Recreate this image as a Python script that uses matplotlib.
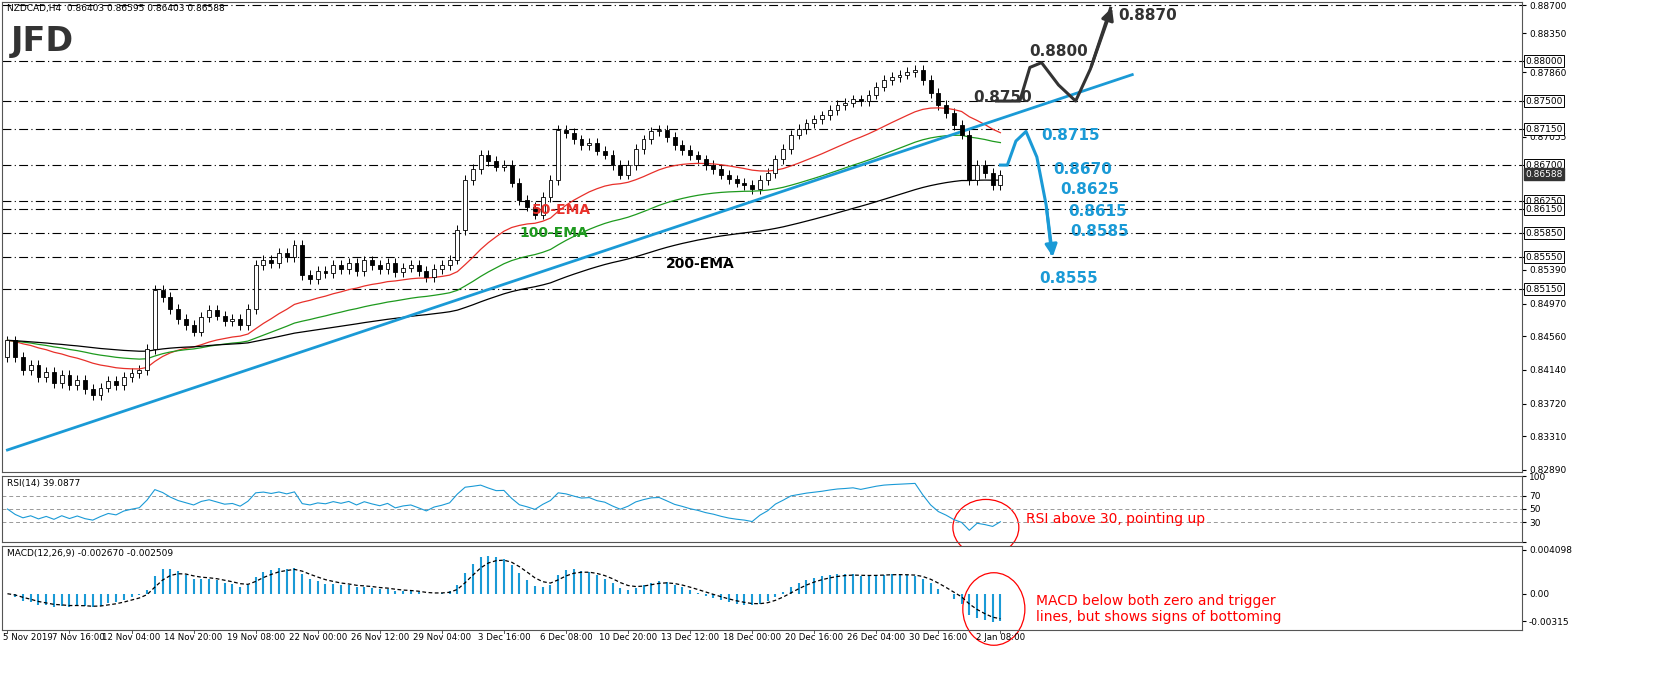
import numpy as np
import matplotlib
matplotlib.use("Agg")
import matplotlib.pyplot as plt
from matplotlib.patches import Ellipse, Rectangle

closes = [.8451,.8430,.8414,.8420,.8405,.8412,.8398,.8408,.8395,.8402,.8390,
          .8383,.8392,.8400,.8395,.8405,.8410,.8414,.8440,
          .8514,.8505,.8490,.8478,.8470,.8462,.8480,.8489,.8482,.8475,.8478,.8470,.8490,
          .8545,.8552,.8548,.8560,.8555,.8570,.8533,.8528,.8538,.8535,.8545,.8540,.8548,.8538,
          .8551,.8545,.8540,.8548,.8536,.8542,.8545,.8538,.8530,.8540,.8545,.8552,
          .8589,.8651,.8665,.8683,.8675,.8668,.8670,.8648,.8626,.8618,.8608,.8630,.8651,
          .8714,.8710,.8702,.8695,.8698,.8688,.8683,.8670,.8658,.8670,.8690,.8702,.8712,
          .8714,.8705,.8695,.8689,.8682,.8677,.8670,.8665,.8658,.8652,.8648,.8645,.8640,.8651,.8660,.8677,.8690,
          .8708,.8715,.8722,.8727,.8732,.8739,.8745,.8748,.8752,.8750,.8758,.8768,.8776,.8780,.8783,.8786,.8789,
          .8776,.8760,.8745,.8735,.8720,.8708,.8651,.8670,.8660,.8645,.8658]
open0 = 0.8430
levels = [0.8870, 0.8800, 0.8750, 0.8715, 0.8670, 0.8625, 0.8615, 0.8585, 0.8555, 0.8515]
price_ticks = [0.88700,0.88350,0.88000,0.87860,0.87500,0.87150,0.87055,0.86700,0.86250,0.86150,
               0.85850,0.85550,0.85390,0.85150,0.84970,0.84560,0.84140,0.83720,0.83310,0.82890]
boxed = [0.88000,0.87500,0.87150,0.86700,0.86250,0.86150,0.85850,0.85550,0.85150]
date_labels = ["5 Nov 2019","7 Nov 16:00","12 Nov 04:00","14 Nov 20:00","19 Nov 08:00","22 Nov 00:00",
               "26 Nov 12:00","29 Nov 04:00","3 Dec 16:00","6 Dec 08:00","10 Dec 20:00","13 Dec 12:00",
               "18 Dec 00:00","20 Dec 16:00","26 Dec 04:00","30 Dec 16:00","2 Jan 08:00"]
trend_x = [0, 145]
trend_y = [0.8314, 0.8783]
bull_x = [127.5, 130.5, 131.8, 133.3, 135.5, 137.7, 139.6, 142.2]
bull_y = [0.8750, 0.8750, 0.8792, 0.8798, 0.8770, 0.8750, 0.8790, 0.8866]
bear_x = [128.0, 128.9, 130.0, 131.3, 132.7, 133.9, 134.6]
bear_y = [0.8670, 0.8670, 0.8700, 0.8712, 0.8680, 0.8620, 0.8560]

c = np.array(closes)
o = np.concatenate([[open0], c[:-1]])
hi = np.maximum(o, c) + 0.0006
lo = np.minimum(o, c) - 0.0006
n = len(c); x = np.arange(n)

def ema(a, span, init=None):
    k = 2/(span+1); out = [a[0] if init is None else init]
    for v in a[1:]: out.append(out[-1] + k*(v-out[-1]))
    return np.array(out)

def rsi(a, p):
    d = np.diff(a, prepend=a[0]); g = np.clip(d,0,None); l = np.clip(-d,0,None)
    base = np.abs(d).mean()/2
    ag = ema(g, 2*p-1, base); al = ema(l, 2*p-1, base)
    return 100 - 100/(1 + ag/np.maximum(al,1e-9))

fig = plt.figure(figsize=(16.55, 6.86), dpi=100)
W, H = 1655, 686
L, R = 2/W, 1522/W
def ax_at(top, bot):
    return fig.add_axes([L, 1-bot/H, R-L, (bot-top)/H])
ax = ax_at(2, 472); ax2 = ax_at(476, 542); ax3 = ax_at(546, 630)
xl = (-0.7, (1522-5)/7.77)
for a in (ax, ax2, ax3):
    a.set_xlim(*xl); a.set_xticks([])
    a.yaxis.tick_right(); a.tick_params(axis='y', labelsize=6.5, length=3, pad=2)
    for s in a.spines.values(): s.set_color('#555'); s.set_linewidth(0.8)

ax.set_ylim(0.8289 - 2/8003, 0.8870 + 3/8003)
for lv in levels:
    ax.axhline(lv, color='black', lw=0.8, ls=(0, (8, 3, 1, 3)))
for i in range(n):
    up = c[i] >= o[i]
    ax.vlines(x[i], lo[i], hi[i], color='black', lw=0.7)
    ax.add_patch(Rectangle((x[i]-0.25, min(o[i], c[i])), 0.5, max(abs(c[i]-o[i]), 0.00003),
                           facecolor='white' if up else 'black', edgecolor='black', lw=0.6, zorder=3))
ax.plot(x, ema(c, 25), color='#e8302a', lw=0.9)
ax.plot(x, ema(c, 50), color='#1e9a1e', lw=0.9)
ax.plot(x, ema(c, 100), color='black', lw=0.9)
ax.plot(trend_x, trend_y, color='#1a9ad6', lw=2)
ax.plot(bull_x, bull_y, color='#333', lw=2.2)
ax.annotate('', xy=(bull_x[-1]+0.3, 0.8870), xytext=(bull_x[-2], bull_y[-2]),
            arrowprops=dict(arrowstyle='-|>', color='#333', lw=2.2, mutation_scale=18))
ax.plot(bear_x, bear_y, color='#1a9ad6', lw=2.2)
ax.annotate('', xy=(134.8, 0.8552), xytext=(bear_x[-2], bear_y[-2]),
            arrowprops=dict(arrowstyle='-|>', color='#1a9ad6', lw=2.2, mutation_scale=18))
ax.set_yticks(price_ticks)
ax.set_yticklabels(["" if t in boxed else f"{t:.5f}" for t in price_ticks])
for t in boxed:
    ax.text(1.002, t, f"{t:.5f}", transform=ax.get_yaxis_transform(), fontsize=6.5, va='center',
            bbox=dict(boxstyle='square,pad=0.15', fc='white', ec='black', lw=0.7))
ax.text(1.002, 0.86588, "0.86588", transform=ax.get_yaxis_transform(), fontsize=6.5, va='center', color='white',
        bbox=dict(boxstyle='square,pad=0.15', fc='#333', ec='#333'))
def px(p): return (p-5)/7.77
bk = dict(fontsize=11, fontweight='bold')
ax.text(px(1118), 0.8857, "0.8870", color='#333', va='center', **bk)
ax.text(px(1028), 0.8812, "0.8800", color='#333', va='center', **bk)
ax.text(px(972), 0.8754, "0.8750", color='#333', va='center', **bk)
bl = '#1a9ad6'
ax.text(px(1040), 0.8707, "0.8715", color=bl, va='center', **bk)
ax.text(px(1052), 0.8665, "0.8670", color=bl, va='center', **bk)
ax.text(px(1060), 0.8640, "0.8625", color=bl, va='center', **bk)
ax.text(px(1068), 0.8612, "0.8615", color=bl, va='center', **bk)
ax.text(px(1070), 0.8587, "0.8585", color=bl, va='center', **bk)
ax.text(px(1038), 0.8528, "0.8555", color=bl, va='center', **bk)
ax.text(px(530), 0.8609, "50-EMA", color='#e8302a', fontsize=10, fontweight='bold')
ax.text(px(518), 0.8580, "100-EMA", color='#1e9a1e', fontsize=10, fontweight='bold')
ax.text(px(665), 0.8541, "200-EMA", color='black', fontsize=10, fontweight='bold')
ax.text(0.003, 0.995, "NZDCAD,H4  0.86403 0.86595 0.86403 0.86588", transform=ax.transAxes, fontsize=6.5, va='top')
ax.text(0.006, 0.95, "JFD", transform=ax.transAxes, fontsize=24, fontweight='bold', color='#333', va='top')

r = rsi(c, 10)
ax2.set_ylim(0, 100)
for lv in (70, 50, 30): ax2.axhline(lv, color='#999', lw=0.7, ls=(0, (4, 3)))
ax2.plot(x, r, color='#1a9ad6', lw=0.8)
ax2.set_yticks([0, 30, 50, 70, 100]); ax2.set_yticklabels(["", "30", "50", "70", "100"])
ax2.text(0.003, 0.95, "RSI(14) 39.0877", transform=ax2.transAxes, fontsize=6.5, va='top')
ax2.add_patch(Ellipse((px(985), 22), 8.5, 85, fill=False, ec='red', lw=0.9, clip_on=False))
ax2.text(px(1025), 35, "RSI above 30, pointing up", color='red', fontsize=10, va='center')

m = ema(c, 6) - ema(c, 13); sig = ema(m, 4)
ax3.vlines(x, 0, m, color='#1a9ad6', lw=1.5)
ax3.plot(x, sig, color='black', lw=0.9, ls=(0, (3, 2)))
mx = np.abs(m).max()
ax3.set_ylim(-mx*0.95, mx*1.25)
ax3.set_yticks([-mx*0.72, 0, mx*1.15]); ax3.set_yticklabels(["-0.00315", "0.00", "0.004098"])
ax3.text(0.003, 0.97, "MACD(12,26,9) -0.002670 -0.002509", transform=ax3.transAxes, fontsize=6.5, va='top')
ax3.add_patch(Ellipse((px(993), -mx*0.4), 8, mx*1.9, fill=False, ec='red', lw=0.9, clip_on=False))
ax3.text(px(1035), -mx*0.4, "MACD below both zero and trigger\nlines, but shows signs of bottoming",
         color='red', fontsize=10, va='center')

for i, lab in enumerate(date_labels):
    xi = i*8
    if i == 0:
        lx, ha = -0.6, 'left'
    elif i == 1:
        lx, ha = xi + 1.2, 'center'
    else:
        lx, ha = xi, 'center'
    ax3.text(lx, -0.04, lab, transform=ax3.get_xaxis_transform(), fontsize=6.2, ha=ha, va='top')
    ax3.plot([xi, xi], [0, -0.04], transform=ax3.get_xaxis_transform(), color='#555', lw=0.7, clip_on=False)
fig.savefig("out.png", dpi=100, facecolor='white')
